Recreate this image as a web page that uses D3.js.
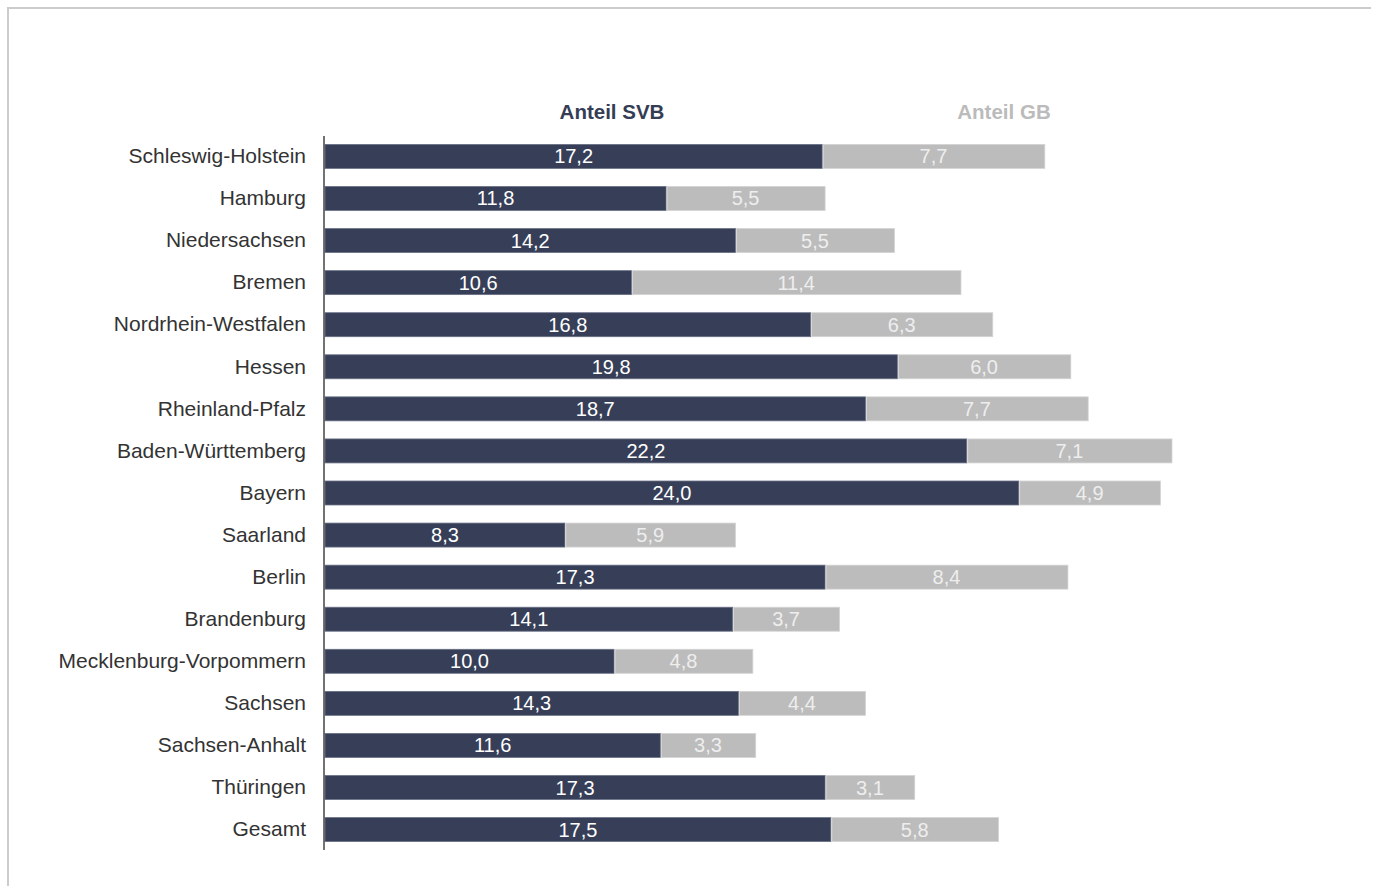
<!DOCTYPE html>
<meta charset="utf-8">
<style>
  body { margin: 0; background: #fff; }
  text { font-family: "Liberation Sans", Arial, sans-serif; }
</style>
<body>
<script src="https://d3js.org/d3.v7.min.js"></script>
<script>

var width = 1375,
    height = 886;

var laender = ["Schleswig-Holstein", "Hamburg", "Niedersachsen", "Bremen",
  "Nordrhein-Westfalen", "Hessen", "Rheinland-Pfalz", "Baden-Württemberg",
  "Bayern", "Saarland", "Berlin", "Brandenburg", "Mecklenburg-Vorpommern",
  "Sachsen", "Sachsen-Anhalt", "Thüringen", "Gesamt"];

var anteilSVB = [17.2, 11.8, 14.2, 10.6, 16.8, 19.8, 18.7, 22.2, 24.0, 8.3,
  17.3, 14.1, 10.0, 14.3, 11.6, 17.3, 17.5];

var anteilGB = [7.7, 5.5, 5.5, 11.4, 6.3, 6.0, 7.7, 7.1, 4.9, 5.9,
  8.4, 3.7, 4.8, 4.4, 3.3, 3.1, 5.8];

var serien = ["Anteil SVB", "Anteil GB"];

var svg = d3.select("body").append("svg")
  .attr("width", width)
  .attr("height", height);

// frame: top and left edge only
svg.append("path")
  .attr("d", "M8,886V8H1371")
  .attr("fill", "none")
  .attr("stroke", "#cccccc")
  .attr("stroke-width", 2);

var x = d3.scaleLinear()
  .domain([0, 29.3])
  .range([325, 1172]);

var y = d3.scaleBand()
  .domain(laender)
  .range([136, 850])
  .paddingInner(0.43)
  .paddingOuter(0.2);

var fmt = function(v) { return d3.format(".1f")(v).replace(".", ","); };

var rows = laender.map(function(d, i) {
  return {name: d, svb: anteilSVB[i], gb: anteilGB[i]};
});

var g = svg.selectAll("g.row")
  .data(rows)
  .enter()
  .append("g")
    .attr("class", "row")
    .attr("transform", function(d) { return "translate(0," + y(d.name) + ")"; });

g.append("rect")
  .attr("x", x(0))
  .attr("width", function(d) { return x(d.svb) - x(0); })
  .attr("height", y.bandwidth())
  .attr("fill", "#373f58")
  .attr("stroke", "#6a7086")
  .attr("stroke-width", 0.8);

g.append("rect")
  .attr("x", function(d) { return x(d.svb) + 1; })
  .attr("width", function(d) { return x(d.svb + d.gb) - x(d.svb) - 1; })
  .attr("height", y.bandwidth())
  .attr("fill", "#bcbcbc")
  .attr("stroke", "#d4d4d4")
  .attr("stroke-width", 0.8);

g.append("text")
  .attr("x", function(d) { return (x(0) + x(d.svb)) / 2; })
  .attr("y", y.bandwidth() / 2 + 7)
  .attr("text-anchor", "middle")
  .attr("fill", "#ffffff")
  .style("font-size", "20px")
  .text(function(d) { return fmt(d.svb); });

g.append("text")
  .attr("x", function(d) { return (x(d.svb) + x(d.svb + d.gb)) / 2; })
  .attr("y", y.bandwidth() / 2 + 7)
  .attr("text-anchor", "middle")
  .attr("fill", "#eeeeee")
  .style("font-size", "20px")
  .text(function(d) { return fmt(d.gb); });

var axis = svg.append("g")
  .attr("transform", "translate(" + (x(0) - 1) + ",0)")
  .call(d3.axisLeft(y).tickSize(0).tickPadding(18));

axis.select(".domain")
  .attr("d", "M0,136V850")
  .attr("stroke", "#444")
  .attr("stroke-width", 1.5);

axis.selectAll("text")
  .attr("fill", "#333")
  .style("font-size", "21px")
  .style("font-family", "'Liberation Sans', Arial, sans-serif");

// series headers
svg.selectAll("text.header")
  .data(serien)
  .enter()
  .append("text")
    .attr("class", "header")
    .attr("x", function(d, i) { return i === 0 ? 612 : 1004; })
    .attr("y", 119)
    .attr("text-anchor", "middle")
    .attr("fill", function(d, i) { return i === 0 ? "#353d55" : "#bbbbbb"; })
    .style("font-size", "20.5px")
    .style("font-weight", "bold")
    .text(function(d) { return d; });

</script>
